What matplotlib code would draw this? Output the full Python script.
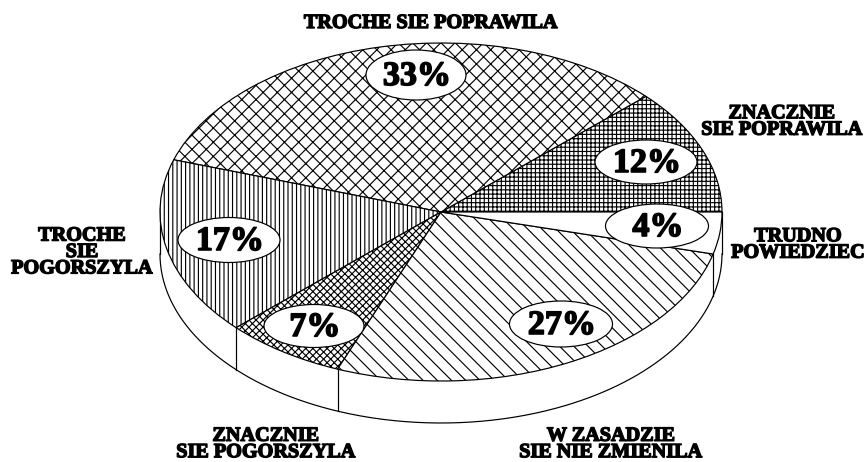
import numpy as np
import matplotlib
matplotlib.use("Agg")
import matplotlib.pyplot as plt
from matplotlib.patches import Ellipse
import matplotlib.patheffects as pe

categories = ["ZNACZNIE\nSIE POPRAWILA", "TROCHE SIE POPRAWILA", "TROCHE\nSIE\nPOGORSZYLA",
              "ZNACZNIE\nSIE POGORSZYLA", "W ZASADZIE\nSIE NIE ZMIENILA", "TRUDNO\nPOWIEDZIEC"]
values = [12, 33, 17, 7, 27, 4]
value_labels = ["12%", "33%", "17%", "7%", "27%", "4%"]
hatches = ["+++++", "xxx", "|||||", "xxxxxx", "\\\\\\", ""]

# layout, in reference pixels
W, H = 867, 462
DPI = 128
PX = 72 / DPI  # one pixel in points
CX, CY, A, B, DEPTH = 441, 212, 281, 169, 42
label_pos = [(782, 121.5), (431, 23), (82, 252), (266, 444), (611, 444), (798, 244.5)]
bubble_pos = [(646, 162), (416, 75), (229, 240), (314, 326), (561, 324), (657, 226)]
bubble_size = [(102, 44), (100, 50), (102, 45), (100, 43), (103, 46), (103, 44)]

plt.rcParams["hatch.linewidth"] = 1.15 * PX
fig = plt.figure(figsize=(W / DPI, H / DPI), dpi=DPI)
ax = fig.add_axes([0, 0, 1, 1])

def px(x, y):
    return (x - CX) / A, (CY - y) / B

LW = 1.2 * PX
wedges, _ = ax.pie(values, startangle=0, radius=1, colors=["white"] * len(values),
                   wedgeprops=dict(edgecolor="black", linewidth=LW, zorder=3))
for w, h in zip(wedges, hatches):
    w.set_hatch(h)
ax.set_aspect("auto")
ax.set_xlim((0 - CX) / A, (W - CX) / A)
ax.set_ylim((CY - H) / B, CY / B)
ax.axis("off")

# side wall
d = DEPTH / B
t = np.linspace(np.pi, 2 * np.pi, 400)
ax.fill_between(np.cos(t), np.sin(t) - d, np.sin(t), color="white", zorder=1)
ax.plot(np.cos(t), np.sin(t) - d, color="black", lw=LW, zorder=2)
for x in (-1, 1):
    ax.plot([x, x], [0, -d], color="black", lw=LW, zorder=2)
angles = np.deg2rad(np.cumsum(values) * 3.6)
for an in angles:
    if np.sin(an) < -1e-6:
        ax.plot([np.cos(an)] * 2, [np.sin(an), np.sin(an) - d], color="black", lw=LW, zorder=2)

heavy = lambda w: [pe.withStroke(linewidth=w * PX, foreground="black")]
serif = "Liberation Serif"
for lab, (x, y) in zip(categories, label_pos):
    ax.text(*px(x, y), lab, ha="center", va="center", multialignment="center", family=serif,
            weight="bold", fontsize=20.2 * PX, linespacing=0.76, color="black", zorder=6, path_effects=heavy(1.4))
for lab, (x, y), (w, h) in zip(value_labels, bubble_pos, bubble_size):
    ax.add_patch(Ellipse(px(x, y), w / A, h / B, facecolor="white", edgecolor="black", lw=LW, zorder=4))
    ax.text(*px(x + 1, y + 1.5), lab, ha="center", va="center", family=serif, weight="bold",
            fontsize=34 * PX, color="black", zorder=5, path_effects=heavy(1.6))

fig.savefig("out.png", dpi=DPI, facecolor="white")
